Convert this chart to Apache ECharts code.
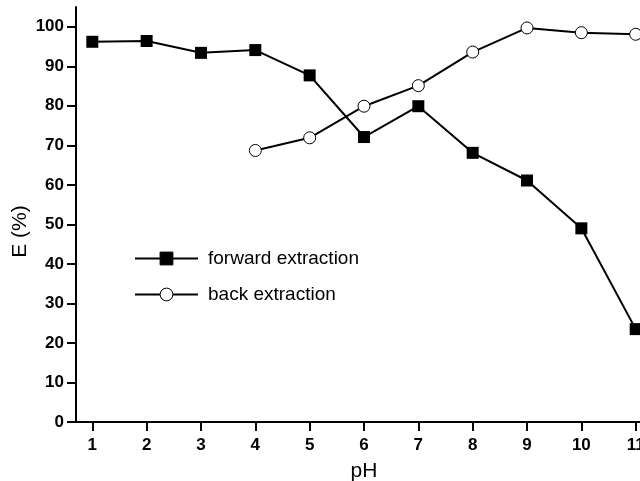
<!DOCTYPE html>
<html><head><meta charset="utf-8">
<script src="https://cdn.jsdelivr.net/npm/echarts@6/dist/echarts.min.js"></script>
<style>html,body{margin:0;padding:0;background:#fff}#c{width:640px;height:481px}</style>
</head><body><div id="c"></div>
<script>
const pH = [1, 2, 3, 4, 5, 6, 7, 8, 9, 10, 11];
const forward = [96.2, 96.4, 93.4, 94.1, 87.7, 72.1, 79.9, 68.1, 61.1, 49.0, 23.5];
const backPH = [4, 5, 6, 7, 8, 9, 10, 11];
const back = [68.7, 71.9, 79.9, 85.1, 93.6, 99.7, 98.5, 98.1];
const xTicks = [1, 2, 3, 4, 5, 6, 7, 8, 9, 10, 11];
const yTicks = [0, 10, 20, 30, 40, 50, 60, 70, 80, 90, 100];
const seriesNames = ['forward extraction', 'back extraction'];

const FONT = '"Liberation Sans", Arial, sans-serif';
const chart = echarts.init(document.getElementById('c'), null, {renderer: 'canvas'});
chart.setOption({
  animation: false,
  backgroundColor: '#fff',
  grid: {left: 76, top: 7, right: -12, bottom: 59, containLabel: false, outerBoundsMode: 'none'},
  legend: {
    orient: 'vertical', left: 134, top: 249, padding: 0, itemWidth: 63, itemHeight: 16, itemGap: 17,
    itemStyle: {borderWidth: 1},
    textStyle: {fontFamily: FONT, fontSize: 19, color: '#000', padding: [0, 0, 0, 5]},
    data: seriesNames
  },
  xAxis: {
    type: 'value', min: 0.7, max: 11.3,
    name: 'pH', nameLocation: 'middle', nameGap: 39, nameMoveOverlap: false,
    nameTextStyle: {fontFamily: FONT, fontSize: 21, color: '#000'},
    axisLine: {lineStyle: {color: '#000', width: 2}},
    axisTick: {show: true, inside: false, length: 9, customValues: xTicks, lineStyle: {color: '#000', width: 2}},
    axisLabel: {customValues: xTicks, margin: 15, fontFamily: FONT, fontSize: 17, fontWeight: 'bold', color: '#000'},
    splitLine: {show: false}
  },
  yAxis: {
    type: 'value', min: 0, max: 105,
    name: 'E (%)', nameLocation: 'middle', nameGap: 45, nameRotate: 90, nameMoveOverlap: false,
    nameTextStyle: {fontFamily: FONT, fontSize: 21, color: '#000', padding: [0, 34, 0, 0]},
    axisLine: {show: true, lineStyle: {color: '#000', width: 2}},
    axisTick: {show: true, inside: false, length: 9, customValues: yTicks, lineStyle: {color: '#000', width: 2}},
    axisLabel: {customValues: yTicks, margin: 12, fontFamily: FONT, fontSize: 17, fontWeight: 'bold', color: '#000'},
    splitLine: {show: false}
  },
  series: [
    {
      name: seriesNames[0], type: 'line',
      data: pH.map((x, i) => [x, forward[i]]),
      symbol: 'rect', symbolSize: 12,
      lineStyle: {color: '#000', width: 2},
      itemStyle: {color: '#000', borderColor: '#000', borderWidth: 0}
    },
    {
      name: seriesNames[1], type: 'line',
      data: backPH.map((x, i) => [x, back[i]]),
      symbol: 'circle', symbolSize: 12,
      lineStyle: {color: '#000', width: 2},
      itemStyle: {color: '#fff', borderColor: '#000', borderWidth: 1}
    }
  ]
});
</script></body></html>
